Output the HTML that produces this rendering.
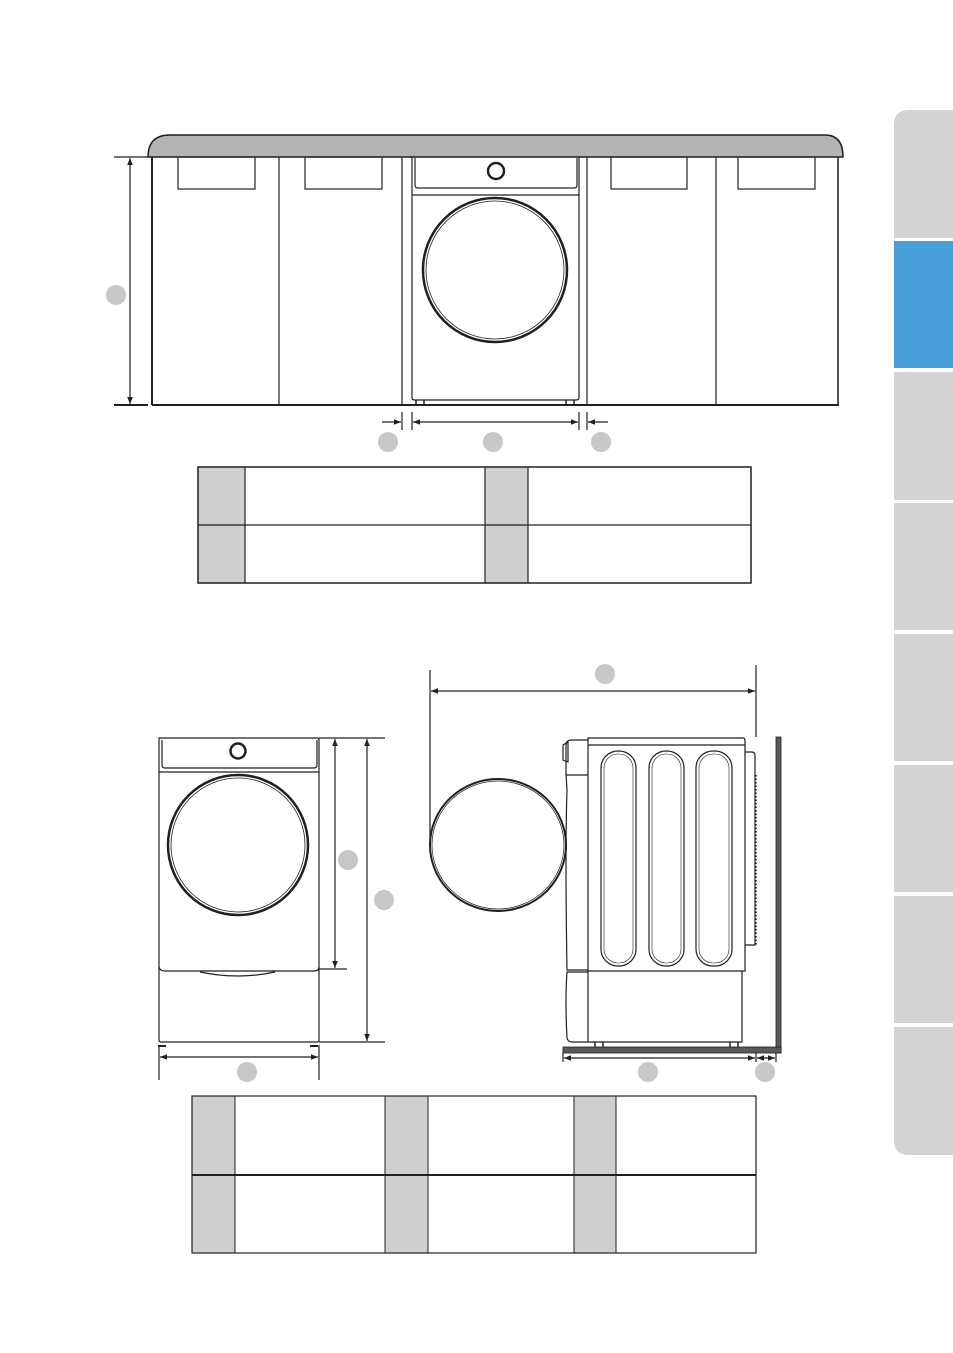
<!DOCTYPE html>
<html><head><meta charset="utf-8"><style>
html,body{margin:0;padding:0;background:#fff;}
svg{display:block;}
</style></head><body>
<svg width="953" height="1353" viewBox="0 0 953 1353" xmlns="http://www.w3.org/2000/svg">
<defs>
<marker id="a" viewBox="0 0 10 10" refX="10" refY="5" markerWidth="6" markerHeight="6" orient="auto-start-reverse"><path d="M0,1 L10,5 L0,9 z" fill="#231f20"/></marker>
</defs>
<g fill="#d3d3d3">
<path d="M894,238 V125 Q894,110 909,110 H953 V238 Z"/>
<rect x="894" y="241" width="59" height="127" fill="#4a9fdb"/>
<rect x="894" y="372" width="59" height="128"/>
<rect x="894" y="503" width="59" height="127"/>
<rect x="894" y="634" width="59" height="127"/>
<rect x="894" y="765" width="59" height="127"/>
<rect x="894" y="896" width="59" height="127"/>
<path d="M894,1027 H953 V1155 H909 Q894,1155 894,1140 Z"/>
</g>
<g stroke="#231f20" fill="none" stroke-width="1.2">
<path d="M148,157 Q148,135 170,135 H825 Q843,135 843,157 Z" fill="#b3b3b3" stroke-width="1.5"/>
<line x1="152" y1="157" x2="152" y2="405" stroke-width="2"/>
<line x1="279" y1="157" x2="279" y2="405"/>
<line x1="402" y1="157" x2="402" y2="405"/>
<line x1="587" y1="157" x2="587" y2="405"/>
<line x1="716" y1="157" x2="716" y2="405"/>
<line x1="838" y1="157" x2="838" y2="405" stroke-width="1.5"/>
<line x1="152" y1="405" x2="839" y2="405" stroke-width="2"/>
<line x1="114" y1="405" x2="148" y2="405" stroke-width="2"/>
<line x1="114" y1="157" x2="148" y2="157"/>
<line x1="130" y1="158" x2="130" y2="404" marker-start="url(#a)" marker-end="url(#a)"/>
<rect x="178" y="157" width="77" height="32"/>
<rect x="305" y="157" width="77" height="32"/>
<rect x="611" y="157" width="76" height="32"/>
<rect x="738" y="157" width="77" height="32"/>
<path d="M412,157 V398 Q412,400 415,400 H576 Q579,400 579,398 V157"/>
<path d="M415,158 V185 Q415,188 418,188 H574 Q577,188 577,185 V158"/>
<line x1="412" y1="195" x2="579" y2="195"/>
<circle cx="496" cy="171" r="8" stroke-width="2.5"/>
<circle cx="495" cy="270" r="72" stroke-width="2.5"/>
<circle cx="495" cy="270" r="69" stroke-width="0.8"/>
<path d="M416,400 v4 M424,400 v4 M566,400 v4 M574,400 v4" stroke-width="1.5"/>
<line x1="402" y1="412" x2="402" y2="430"/>
<line x1="412" y1="412" x2="412" y2="430"/>
<line x1="579" y1="412" x2="579" y2="430"/>
<line x1="587" y1="412" x2="587" y2="430"/>
<line x1="382" y1="422" x2="401" y2="422" marker-end="url(#a)"/>
<line x1="413" y1="422" x2="578" y2="422" marker-start="url(#a)" marker-end="url(#a)"/>
<line x1="608" y1="422" x2="588" y2="422" marker-end="url(#a)"/>
<rect x="198" y="467" width="47" height="116" fill="#cfcfcf" stroke="none"/>
<rect x="485" y="467" width="43" height="116" fill="#cfcfcf" stroke="none"/>
<rect x="198" y="467" width="553" height="116" stroke-width="1.5"/>
<line x1="198" y1="525" x2="751" y2="525"/>
<line x1="245" y1="467" x2="245" y2="583"/>
<line x1="485" y1="467" x2="485" y2="583"/>
<line x1="528" y1="467" x2="528" y2="583"/>
<path d="M159,738 V1040 Q159,1042 161,1042 H317 Q319,1042 319,1040 V740 Q319,738 317,738 Z"/>
<path d="M162,740 V765 Q162,768 165,768 H314 Q317,768 317,765 V740"/>
<line x1="159" y1="772" x2="319" y2="772"/>
<circle cx="238" cy="751" r="7.5" stroke-width="2.5"/>
<circle cx="238" cy="845" r="70" stroke-width="2.5"/>
<circle cx="238" cy="845" r="67" stroke-width="0.8"/>
<path d="M159,967 Q160,971 165,971 H314 Q319,971 319,967"/>
<path d="M200,972 Q238,980 275,972"/>
<path d="M158,1046 h8 M310,1046 h8" stroke-width="2"/>
<line x1="319" y1="738" x2="385" y2="738"/>
<line x1="319" y1="969" x2="347" y2="969"/>
<line x1="319" y1="1042" x2="385" y2="1042"/>
<line x1="335" y1="739" x2="335" y2="968" marker-start="url(#a)" marker-end="url(#a)"/>
<line x1="367" y1="739" x2="367" y2="1041" marker-start="url(#a)" marker-end="url(#a)"/>
<line x1="159" y1="1045" x2="159" y2="1080"/>
<line x1="319" y1="1045" x2="319" y2="1080"/>
<line x1="160" y1="1057" x2="318" y2="1057" marker-start="url(#a)" marker-end="url(#a)"/>
<line x1="430" y1="670" x2="430" y2="845"/>
<line x1="756" y1="665" x2="756" y2="737"/>
<line x1="431" y1="691" x2="755" y2="691" marker-start="url(#a)" marker-end="url(#a)"/>
<ellipse cx="498" cy="845" rx="68" ry="66" stroke-width="2"/>
<ellipse cx="498" cy="845" rx="66" ry="64" stroke-width="0.7"/>
<path d="M588,738 H743 Q745,738 745,741 V971 H588 Z"/>
<line x1="588" y1="745" x2="745" y2="745"/>
<rect x="601" y="751" width="35" height="215" rx="17"/>
<rect x="604" y="754" width="29" height="209" rx="14" stroke-width="0.6"/>
<rect x="649" y="751" width="35" height="215" rx="17"/>
<rect x="652" y="754" width="29" height="209" rx="14" stroke-width="0.6"/>
<rect x="696" y="751" width="36" height="215" rx="17"/>
<rect x="699" y="754" width="30" height="209" rx="14" stroke-width="0.6"/>
<path d="M745,752 H752 Q755,752 755,756 V945 H745"/>
<line x1="756" y1="775" x2="756" y2="945" stroke-dasharray="1.5,2" stroke-width="1.5"/>
<path d="M588,740 H570 Q566,741 566,745 V770 Q566,775 567,790 Q565,850 567,970 H588"/>
<path d="M563,745 v15 l5,2 v-20 z"/>
<line x1="566" y1="775" x2="588" y2="775"/>
<path d="M588,972 H567 Q565,1000 567,1038 Q568,1042 572,1042 H588"/>
<path d="M588,971 V1042 H742 V971"/>
<path d="M595,1042 v5 M603,1042 v5 M730,1042 v5 M738,1042 v5" stroke-width="1.5"/>
<line x1="563" y1="1052" x2="563" y2="1062"/>
<line x1="756" y1="1052" x2="756" y2="1062"/>
<line x1="776" y1="1052" x2="776" y2="1062"/>
<line x1="564" y1="1058" x2="755" y2="1058" marker-start="url(#a)" marker-end="url(#a)"/>
<line x1="757" y1="1058" x2="775" y2="1058" marker-start="url(#a)" marker-end="url(#a)"/>
</g>
<rect x="776" y="737" width="5" height="316" fill="#58595b" stroke="#231f20" stroke-width="0.8"/>
<rect x="563" y="1047" width="218" height="6" fill="#58595b" stroke="#231f20" stroke-width="0.8"/>
<g stroke="#231f20" fill="none">
<rect x="192" y="1096" width="43" height="157" fill="#cfcfcf" stroke="none"/>
<rect x="385" y="1096" width="43" height="157" fill="#cfcfcf" stroke="none"/>
<rect x="574" y="1096" width="42" height="157" fill="#cfcfcf" stroke="none"/>
<rect x="192" y="1096" width="564" height="157" stroke-width="1.2"/>
<line x1="192" y1="1175" x2="756" y2="1175" stroke-width="2"/>
<line x1="235" y1="1096" x2="235" y2="1253"/>
<line x1="385" y1="1096" x2="385" y2="1253"/>
<line x1="428" y1="1096" x2="428" y2="1253"/>
<line x1="574" y1="1096" x2="574" y2="1253"/>
<line x1="616" y1="1096" x2="616" y2="1253"/>
</g>
<g fill="#c8c6c6">
<circle cx="116" cy="295" r="10"/>
<circle cx="388" cy="442" r="10"/>
<circle cx="493" cy="442" r="10"/>
<circle cx="601" cy="442" r="10"/>
<circle cx="605" cy="674" r="10"/>
<circle cx="348" cy="860" r="10"/>
<circle cx="384" cy="900" r="10"/>
<circle cx="247" cy="1072" r="10"/>
<circle cx="648" cy="1072" r="10"/>
<circle cx="765" cy="1072" r="10"/>
</g>
</svg>
</body></html>
